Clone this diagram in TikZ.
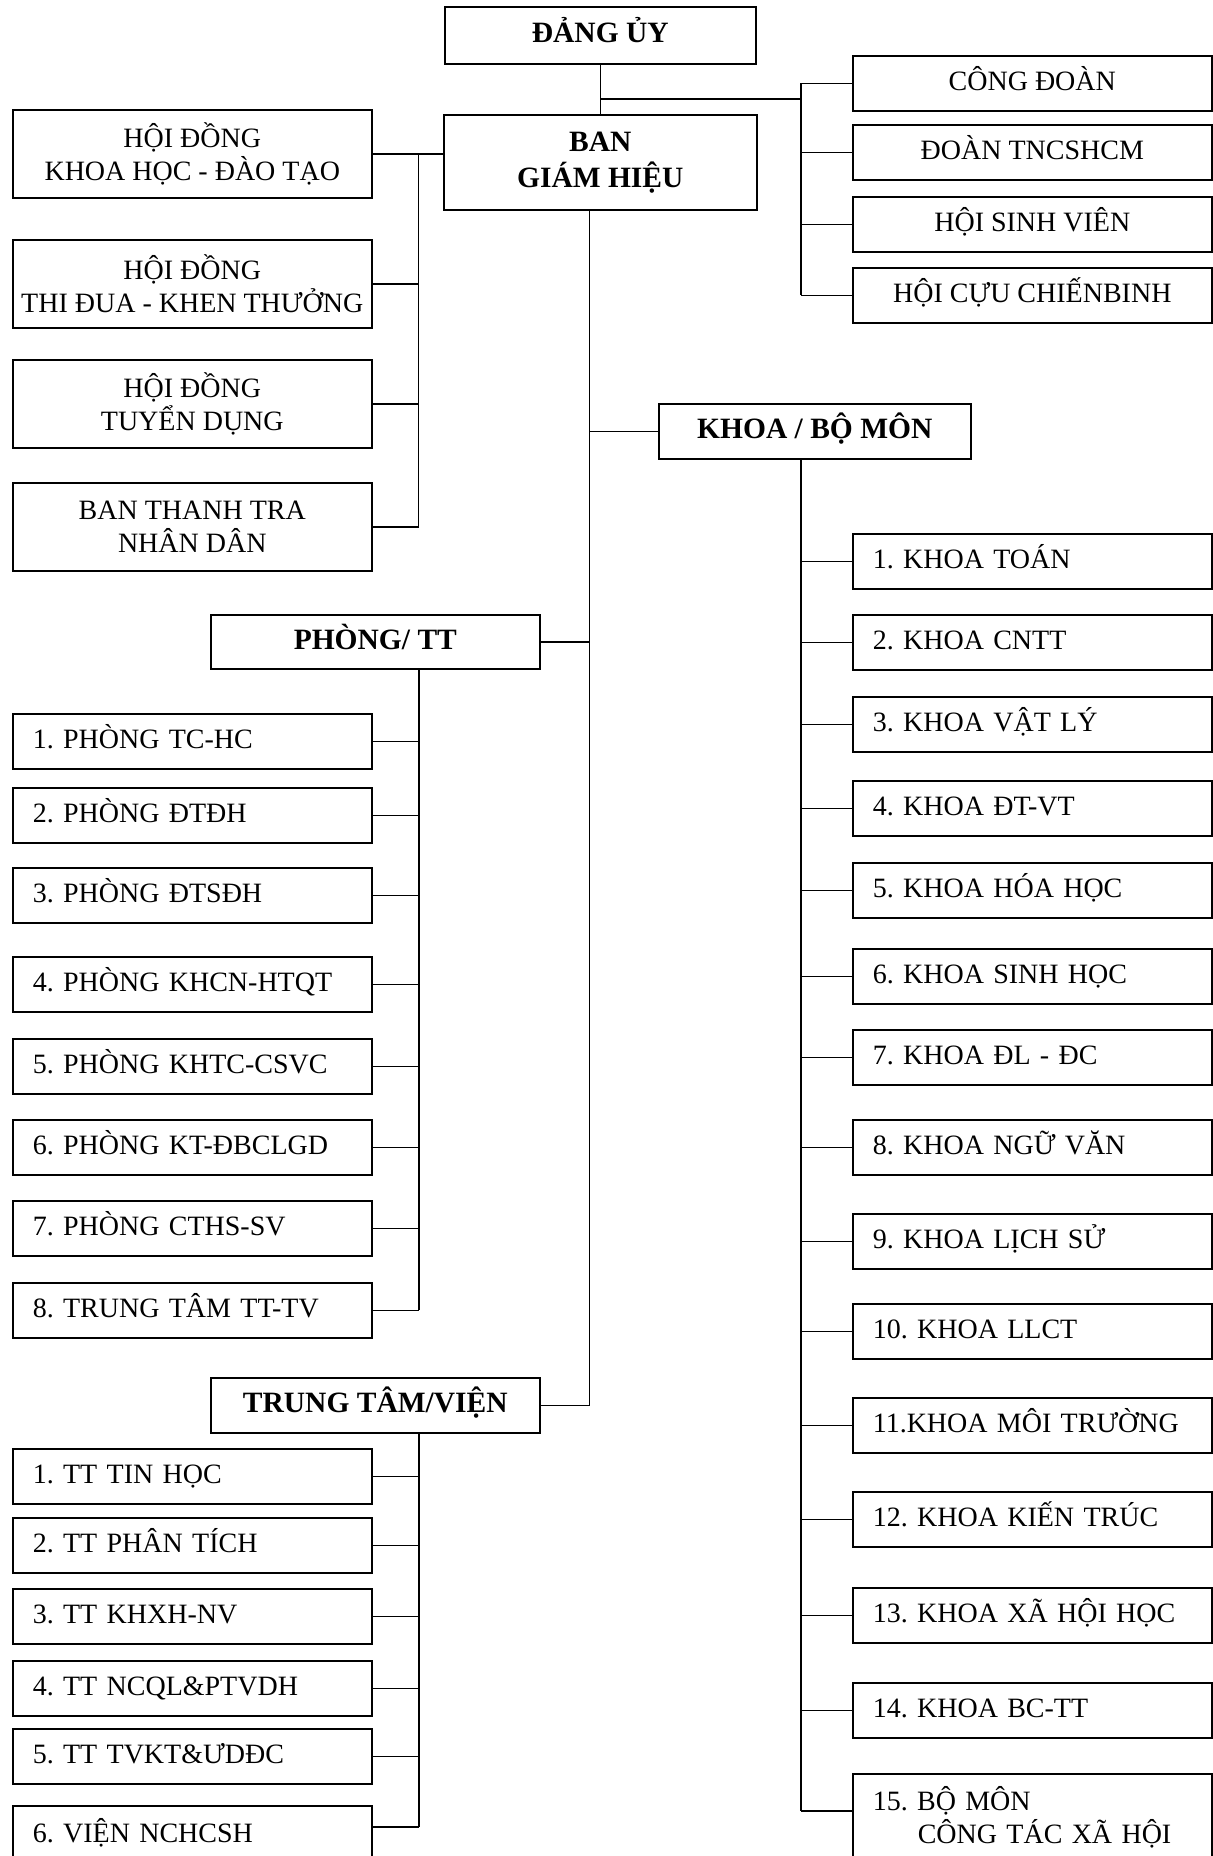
\documentclass[tikz,border=0pt]{standalone}
\usepackage{fontspec}
\setmainfont{Liberation Serif}
\frenchspacing
\definecolor{OrgInk}{RGB}{0,0,0}
\newcommand{\orgfont}{\fontsize{28}{33}\selectfont}
\newcommand{\orgbold}{\fontsize{29.5}{36}\selectfont\bfseries}
\tikzset{
  org box/.style={
    draw=OrgInk,
    line width=1.6pt,
    text=OrgInk,
    font=\orgfont,
    inner sep=0pt,
    anchor=north west
  },
  org head/.style={org box, font=\orgbold, align=center},
  org group/.style={org box, align=center, minimum width=359pt, minimum height=88pt},
  org side/.style={org box, align=center, minimum width=359pt, minimum height=55pt, text height=20pt, text depth=5pt},
  org unit/.style={org box, text width=319pt, inner xsep=20pt, align=left, minimum height=55pt, text height=20pt, text depth=5pt},
  org cut/.style={org unit, minimum height=0pt, inner ysep=16pt, text height=21pt, text depth=70pt},
  org link/.style={line width=1.6pt, draw=OrgInk}
}
\begin{document}
\begin{tikzpicture}[x=1pt, y=-1pt]
\useasboundingbox (0,0) rectangle (1213,1856);
% top
\node[org head, minimum width=311pt, minimum height=57pt, text height=20pt, text depth=5pt] (dangUy) at (444,6) {ĐẢNG ỦY};
\node[org head, minimum width=313pt, minimum height=95pt] (bgh) at (443,114) {BAN\\GIÁM HIỆU};
% mass organisations
\node[org side] (cd) at (852,55) {CÔNG ĐOÀN};
\node[org side] (dtn) at (852,124) {ĐOÀN TNCSHCM};
\node[org side] (hsv) at (852,196) {HỘI SINH VIÊN};
\node[org side] (hcc) at (852,267) {HỘI CỰU CHIẾNBINH};
% councils
\node[org group] (hd1) at (12,109) {HỘI ĐỒNG\\KHOA HỌC - ĐÀO TẠO};
\node[org group] (hd2) at (12,239) {HỘI ĐỒNG\\THI ĐUA - KHEN THƯỞNG};
\node[org group] (hd3) at (12,359) {HỘI ĐỒNG\\TUYỂN DỤNG};
\node[org group] (hd4) at (12,482) {BAN THANH TRA\\NHÂN DÂN};
% group heads
\node[org head, minimum width=312pt, minimum height=55pt, text height=20pt, text depth=5pt] (khoa) at (658,403) {KHOA / BỘ MÔN};
\node[org head, minimum width=329pt, minimum height=54pt, text height=20pt, text depth=5pt] (phong) at (210,614) {PHÒNG/ TT};
\node[org head, minimum width=329pt, minimum height=55pt, text height=20pt, text depth=5pt] (ttv) at (210,1377) {TRUNG TÂM/VIỆN};
% offices
\node[org unit] (p1) at (12,713) {1. PHÒNG TC-HC};
\node[org unit] (p2) at (12,787) {2. PHÒNG ĐTĐH};
\node[org unit] (p3) at (12,867) {3. PHÒNG ĐTSĐH};
\node[org unit] (p4) at (12,956) {4. PHÒNG KHCN-HTQT};
\node[org unit] (p5) at (12,1038) {5. PHÒNG KHTC-CSVC};
\node[org unit] (p6) at (12,1119) {6. PHÒNG KT-ĐBCLGD};
\node[org unit] (p7) at (12,1200) {7. PHÒNG CTHS-SV};
\node[org unit] (p8) at (12,1282) {8. TRUNG TÂM TT-TV};
% centres
\node[org unit] (v1) at (12,1448) {1. TT TIN HỌC};
\node[org unit] (v2) at (12,1517) {2. TT PHÂN TÍCH};
\node[org unit] (v3) at (12,1588) {3. TT KHXH-NV};
\node[org unit] (v4) at (12,1660) {4. TT NCQL\&PTVDH};
\node[org unit] (v5) at (12,1728) {5. TT TVKT\&ƯDĐC};
\node[org cut] (v6) at (12,1805) {6. VIỆN NCHCSH};
% faculties
\node[org unit] (k1) at (852,533) {1. KHOA TOÁN};
\node[org unit] (k2) at (852,614) {2. KHOA CNTT};
\node[org unit] (k3) at (852,696) {3. KHOA VẬT LÝ};
\node[org unit] (k4) at (852,780) {4. KHOA ĐT-VT};
\node[org unit] (k5) at (852,862) {5. KHOA HÓA HỌC};
\node[org unit] (k6) at (852,948) {6. KHOA SINH HỌC};
\node[org unit] (k7) at (852,1029) {7. KHOA ĐL - ĐC};
\node[org unit] (k8) at (852,1119) {8. KHOA NGỮ VĂN};
\node[org unit] (k9) at (852,1213) {9. KHOA LỊCH SỬ};
\node[org unit] (k10) at (852,1303) {10. KHOA LLCT};
\node[org unit] (k11) at (852,1397) {11.KHOA MÔI TRƯỜNG};
\node[org unit] (k12) at (852,1491) {12. KHOA KIẾN TRÚC};
\node[org unit] (k13) at (852,1587) {13. KHOA XÃ HỘI HỌC};
\node[org unit] (k14) at (852,1682) {14. KHOA BC-TT};
\node[org cut] (k15) at (852,1773) {15. BỘ MÔN\\\hspace*{45pt}CÔNG TÁC XÃ HỘI};
% bus lines
\coordinate (rBus) at (801,99);
\coordinate (lBus) at (418.5,0);
\coordinate (trunk) at (589.5,0);
\coordinate (pBus) at (419,0);
\coordinate (kBus) at (801,0);
\coordinate (v6c) at ([yshift=-22pt]v6.north east);
% connectors
\draw[org link] (dangUy.south) -- (bgh.north);
\draw[org link] (dangUy.south |- rBus) -- (rBus);
\draw[org link] (rBus |- cd.west) -- (rBus |- hcc.west);
\draw[org link] (cd.west -| rBus) -- (cd.west) (dtn.west -| rBus) -- (dtn.west)
  (hsv.west -| rBus) -- (hsv.west) (hcc.west -| rBus) -- (hcc.west);
\draw[org link] (hd1.east) -- (hd1.east -| bgh.west);
\draw[org link] (lBus |- hd1.east) -- (lBus |- hd4.east);
\draw[org link] (hd2.east) -- (hd2.east -| lBus) (hd3.east) -- (hd3.east -| lBus)
  (hd4.east) -- (hd4.east -| lBus);
\draw[org link] (trunk |- bgh.south) -- (trunk |- ttv.east);
\draw[org link] (trunk |- khoa.west) -- (khoa.west);
\draw[org link] (phong.east) -- (phong.east -| trunk);
\draw[org link] (ttv.east) -- (ttv.east -| trunk);
\draw[org link] (pBus |- phong.south) -- (pBus |- p8.east);
\draw[org link] (p1.east) -- (p1.east -| pBus) (p2.east) -- (p2.east -| pBus)
  (p3.east) -- (p3.east -| pBus) (p4.east) -- (p4.east -| pBus)
  (p5.east) -- (p5.east -| pBus) (p6.east) -- (p6.east -| pBus)
  (p7.east) -- (p7.east -| pBus) (p8.east) -- (p8.east -| pBus);
\draw[org link] (pBus |- ttv.south) -- (pBus |- v6c);
\draw[org link] (v1.east) -- (v1.east -| pBus) (v2.east) -- (v2.east -| pBus)
  (v3.east) -- (v3.east -| pBus) (v4.east) -- (v4.east -| pBus)
  (v5.east) -- (v5.east -| pBus) (v6c) -- (v6c -| pBus);
\draw[org link] (kBus |- khoa.south) -- (kBus |- k15.base west);
\draw[org link] (k1.west -| kBus) -- (k1.west) (k2.west -| kBus) -- (k2.west)
  (k3.west -| kBus) -- (k3.west) (k4.west -| kBus) -- (k4.west)
  (k5.west -| kBus) -- (k5.west) (k6.west -| kBus) -- (k6.west)
  (k7.west -| kBus) -- (k7.west) (k8.west -| kBus) -- (k8.west)
  (k9.west -| kBus) -- (k9.west) (k10.west -| kBus) -- (k10.west)
  (k11.west -| kBus) -- (k11.west) (k12.west -| kBus) -- (k12.west)
  (k13.west -| kBus) -- (k13.west) (k14.west -| kBus) -- (k14.west)
  (k15.base west -| kBus) -- (k15.base west);
\end{tikzpicture}
\end{document}
